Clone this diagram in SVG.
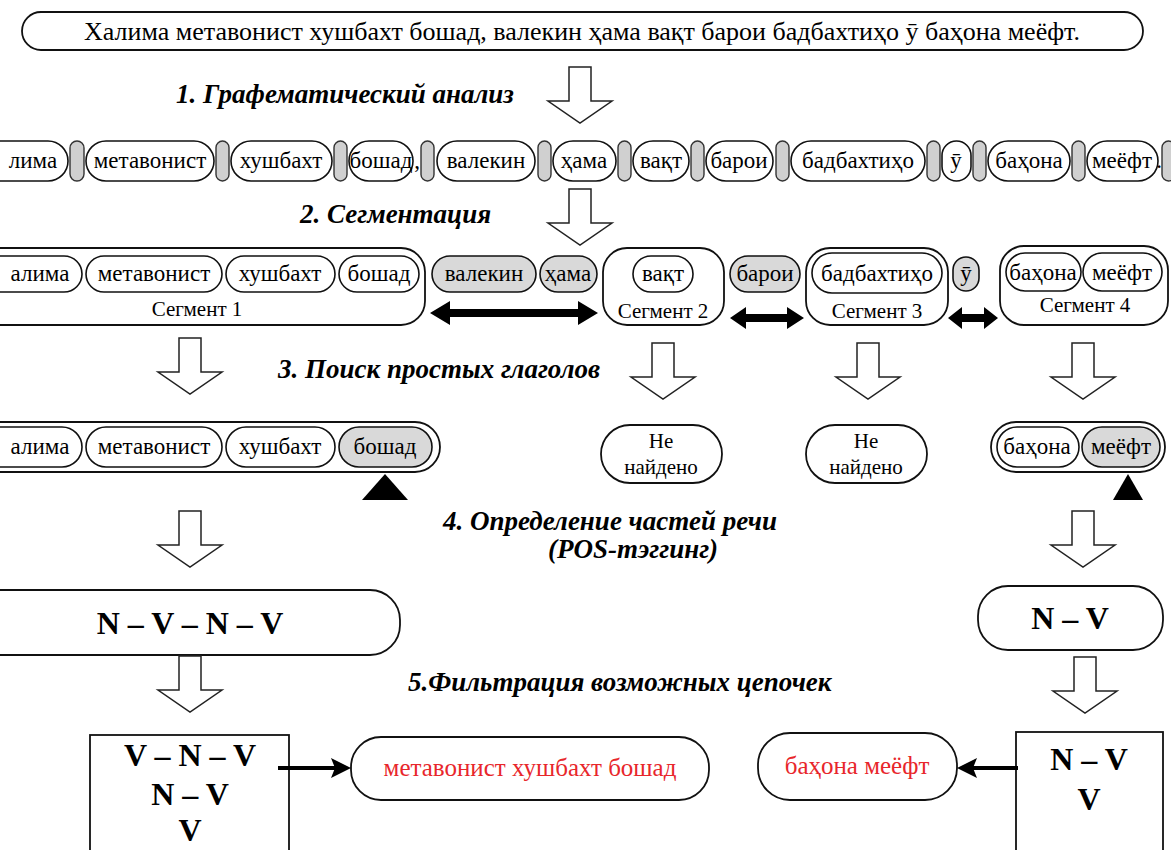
<svg xmlns="http://www.w3.org/2000/svg" width="1171" height="850" viewBox="0 0 1171 850">
<defs>
<path id="down" fill="#fff" stroke="#222" stroke-width="1.5" d="M-11,0 H11 V34 H32 L0,56 L-32,34 H-11 Z"/>
</defs>
<rect width="1171" height="850" fill="#fff"/>

<g id="sentence">
<rect fill="#fff" stroke="#111" stroke-width="1.8" x="22" y="12" width="1121" height="38" rx="19"/>
<text x="582" y="40" font-size="26" font-family="Liberation Serif" text-anchor="middle">Халима метавонист хушбахт бошад, валекин ҳама вақт барои бадбахтиҳо ӯ баҳона меёфт.</text>
</g>

<g id="labels">
<text x="176" y="103" font-size="27" font-family="Liberation Serif" font-weight="bold" font-style="italic">1. Графематический анализ</text>
<text x="300" y="223" font-size="27" font-family="Liberation Serif" font-weight="bold" font-style="italic">2. Сегментация</text>
<text x="278" y="378" font-size="27" font-family="Liberation Serif" font-weight="bold" font-style="italic">3. Поиск простых глаголов</text>
<text x="443" y="530" font-size="27" font-family="Liberation Serif" font-weight="bold" font-style="italic">4. Определение частей речи</text>
<text x="548" y="558" font-size="27" font-family="Liberation Serif" font-weight="bold" font-style="italic">(POS-тэггинг)</text>
<text x="408" y="691" font-size="27" font-family="Liberation Serif" font-weight="bold" font-style="italic">5.Фильтрация возможных цепочек</text>
</g>

<g id="tokens">
<rect fill="#fff" stroke="#111" stroke-width="1.6" x="-30" y="141" width="98" height="40" rx="20"/><text x="33" y="168" font-size="23" font-family="Liberation Serif" text-anchor="middle">лима</text>
<rect fill="#d0d0d0" stroke="#333" stroke-width="1.4" x="70" y="141" width="14" height="40" rx="7"/>
<rect fill="#fff" stroke="#111" stroke-width="1.6" x="86" y="141" width="128" height="40" rx="20"/><text x="150" y="168" font-size="23" font-family="Liberation Serif" text-anchor="middle">метавонист</text>
<rect fill="#d0d0d0" stroke="#333" stroke-width="1.4" x="216" y="141" width="13" height="40" rx="6.5"/>
<rect fill="#fff" stroke="#111" stroke-width="1.6" x="231" y="141" width="101" height="40" rx="20"/><text x="281" y="168" font-size="23" font-family="Liberation Serif" text-anchor="middle">хушбахт</text>
<rect fill="#d0d0d0" stroke="#333" stroke-width="1.4" x="334" y="141" width="13" height="40" rx="6.5"/>
<rect fill="#fff" stroke="#111" stroke-width="1.6" x="349" y="141" width="64" height="40" rx="20"/><text x="381" y="168" font-size="23" font-family="Liberation Serif" text-anchor="middle">бошад</text>
<text x="417" y="168" font-size="23" font-family="Liberation Serif" text-anchor="middle">,</text>
<rect fill="#d0d0d0" stroke="#333" stroke-width="1.4" x="421" y="141" width="13" height="40" rx="6.5"/>
<rect fill="#fff" stroke="#111" stroke-width="1.6" x="437" y="141" width="98" height="40" rx="20"/><text x="486" y="168" font-size="23" font-family="Liberation Serif" text-anchor="middle">валекин</text>
<rect fill="#d0d0d0" stroke="#333" stroke-width="1.4" x="538" y="141" width="13" height="40" rx="6.5"/>
<rect fill="#fff" stroke="#111" stroke-width="1.6" x="553" y="141" width="63" height="40" rx="20"/><text x="584" y="168" font-size="23" font-family="Liberation Serif" text-anchor="middle">ҳама</text>
<rect fill="#d0d0d0" stroke="#333" stroke-width="1.4" x="618" y="141" width="13" height="40" rx="6.5"/>
<rect fill="#fff" stroke="#111" stroke-width="1.6" x="633" y="141" width="56" height="40" rx="20"/><text x="661" y="168" font-size="23" font-family="Liberation Serif" text-anchor="middle">вақт</text>
<rect fill="#d0d0d0" stroke="#333" stroke-width="1.4" x="691" y="141" width="13" height="40" rx="6.5"/>
<rect fill="#fff" stroke="#111" stroke-width="1.6" x="706" y="141" width="67" height="40" rx="20"/><text x="739" y="168" font-size="23" font-family="Liberation Serif" text-anchor="middle">барои</text>
<rect fill="#d0d0d0" stroke="#333" stroke-width="1.4" x="776" y="141" width="13" height="40" rx="6.5"/>
<rect fill="#fff" stroke="#111" stroke-width="1.6" x="791" y="141" width="134" height="40" rx="20"/><text x="858" y="168" font-size="23" font-family="Liberation Serif" text-anchor="middle">бадбахтиҳо</text>
<rect fill="#d0d0d0" stroke="#333" stroke-width="1.4" x="927" y="141" width="13" height="40" rx="6.5"/>
<rect fill="#fff" stroke="#111" stroke-width="1.6" x="942" y="141" width="29" height="40" rx="14.5"/><text x="956" y="168" font-size="23" font-family="Liberation Serif" text-anchor="middle">ӯ</text>
<rect fill="#d0d0d0" stroke="#333" stroke-width="1.4" x="973" y="141" width="13" height="40" rx="6.5"/>
<rect fill="#fff" stroke="#111" stroke-width="1.6" x="988" y="141" width="82" height="40" rx="20"/><text x="1029" y="168" font-size="23" font-family="Liberation Serif" text-anchor="middle">баҳона</text>
<rect fill="#d0d0d0" stroke="#333" stroke-width="1.4" x="1072" y="141" width="13" height="40" rx="6.5"/>
<rect fill="#fff" stroke="#111" stroke-width="1.6" x="1087" y="141" width="71" height="40" rx="20"/><text x="1122" y="168" font-size="23" font-family="Liberation Serif" text-anchor="middle">меёфт</text>
<text x="1159" y="168" font-size="23" font-family="Liberation Serif" text-anchor="middle">.</text>
<rect fill="#d0d0d0" stroke="#333" stroke-width="1.4" x="1162" y="141" width="13" height="40" rx="6.5"/>
</g>

<g id="segment1">
<rect fill="#fff" stroke="#111" stroke-width="1.8" x="-30" y="248" width="455" height="77" rx="24"/>
<rect fill="#fff" stroke="#111" stroke-width="1.6" x="-30" y="256" width="112" height="36" rx="18"/><text x="40" y="281" font-size="23" font-family="Liberation Serif" text-anchor="middle">алима</text>
<rect fill="#fff" stroke="#111" stroke-width="1.6" x="86" y="256" width="136" height="36" rx="18"/><text x="154" y="281" font-size="23" font-family="Liberation Serif" text-anchor="middle">метавонист</text>
<rect fill="#fff" stroke="#111" stroke-width="1.6" x="226" y="256" width="109" height="36" rx="18"/><text x="280" y="281" font-size="23" font-family="Liberation Serif" text-anchor="middle">хушбахт</text>
<rect fill="#fff" stroke="#111" stroke-width="1.6" x="339" y="256" width="80" height="36" rx="18"/><text x="379" y="281" font-size="23" font-family="Liberation Serif" text-anchor="middle">бошад</text>
<text x="197" y="316" font-size="21" font-family="Liberation Serif" text-anchor="middle">Сегмент 1</text>
</g>
<g id="sep12">
<rect fill="#d9d9d9" stroke="#111" stroke-width="1.6" x="432" y="256" width="104" height="36" rx="18"/><text x="484" y="281" font-size="23" font-family="Liberation Serif" text-anchor="middle">валекин</text>
<rect fill="#d9d9d9" stroke="#111" stroke-width="1.6" x="540" y="256" width="57" height="36" rx="18"/><text x="568" y="281" font-size="23" font-family="Liberation Serif" text-anchor="middle">ҳама</text>
</g>
<g id="segment2">
<rect fill="#fff" stroke="#111" stroke-width="1.8" x="603" y="248" width="121" height="77" rx="24"/>
<rect fill="#fff" stroke="#111" stroke-width="1.6" x="633" y="256" width="60" height="36" rx="18"/><text x="663" y="281" font-size="23" font-family="Liberation Serif" text-anchor="middle">вақт</text>
<text x="663" y="318" font-size="21" font-family="Liberation Serif" text-anchor="middle">Сегмент 2</text>
</g>
<g id="sep23">
<rect fill="#d9d9d9" stroke="#111" stroke-width="1.6" x="730" y="256" width="70" height="36" rx="18"/><text x="765" y="281" font-size="23" font-family="Liberation Serif" text-anchor="middle">барои</text>
</g>
<g id="segment3">
<rect fill="#fff" stroke="#111" stroke-width="1.8" x="806" y="248" width="142" height="77" rx="24"/>
<rect fill="#fff" stroke="#111" stroke-width="1.6" x="812" y="253" width="130" height="40" rx="20"/><text x="877" y="281" font-size="23" font-family="Liberation Serif" text-anchor="middle">бадбахтиҳо</text>
<text x="877" y="318" font-size="21" font-family="Liberation Serif" text-anchor="middle">Сегмент 3</text>
</g>
<g id="sep34">
<rect fill="#d9d9d9" stroke="#111" stroke-width="1.6" x="953" y="257" width="26" height="34" rx="13"/><text x="966" y="281" font-size="23" font-family="Liberation Serif" text-anchor="middle">ӯ</text>
</g>
<g id="segment4">
<rect fill="#fff" stroke="#111" stroke-width="1.8" x="1000" y="246" width="168" height="79" rx="24"/>
<rect fill="#fff" stroke="#111" stroke-width="1.6" x="1006" y="253" width="75" height="38" rx="19"/><text x="1043" y="280" font-size="23" font-family="Liberation Serif" text-anchor="middle">баҳона</text>
<rect fill="#fff" stroke="#111" stroke-width="1.6" x="1083" y="253" width="79" height="38" rx="19"/><text x="1122" y="280" font-size="23" font-family="Liberation Serif" text-anchor="middle">меёфт</text>
<text x="1085" y="312" font-size="21" font-family="Liberation Serif" text-anchor="middle">Сегмент 4</text>
</g>

<g id="verbs1">
<rect fill="#fff" stroke="#111" stroke-width="1.8" x="-30" y="422" width="470" height="50" rx="25"/>
<rect fill="#fff" stroke="#111" stroke-width="1.6" x="-30" y="427" width="112" height="40" rx="20"/><text x="40" y="454" font-size="23" font-family="Liberation Serif" text-anchor="middle">алима</text>
<rect fill="#fff" stroke="#111" stroke-width="1.6" x="86" y="427" width="136" height="40" rx="20"/><text x="154" y="454" font-size="23" font-family="Liberation Serif" text-anchor="middle">метавонист</text>
<rect fill="#fff" stroke="#111" stroke-width="1.6" x="226" y="427" width="109" height="40" rx="20"/><text x="280" y="454" font-size="23" font-family="Liberation Serif" text-anchor="middle">хушбахт</text>
<rect fill="#d9d9d9" stroke="#111" stroke-width="1.6" x="339" y="427" width="93" height="40" rx="20"/><text x="385" y="454" font-size="23" font-family="Liberation Serif" text-anchor="middle">бошад</text>
<polygon points="385,474 408,500 362,500" fill="#000"/>
</g>
<g id="notfound2">
<rect fill="#fff" stroke="#111" stroke-width="1.8" x="601" y="425" width="121" height="58" rx="29"/>
<text x="661" y="448" font-size="21" font-family="Liberation Serif" text-anchor="middle">Не</text>
<text x="661" y="474" font-size="21" font-family="Liberation Serif" text-anchor="middle">найдено</text>
</g>
<g id="notfound3">
<rect fill="#fff" stroke="#111" stroke-width="1.8" x="806" y="425" width="121" height="58" rx="29"/>
<text x="866" y="448" font-size="21" font-family="Liberation Serif" text-anchor="middle">Не</text>
<text x="866" y="474" font-size="21" font-family="Liberation Serif" text-anchor="middle">найдено</text>
</g>
<g id="verbs4">
<rect fill="#fff" stroke="#111" stroke-width="1.8" x="991" y="422" width="174" height="50" rx="25"/>
<rect fill="#fff" stroke="#111" stroke-width="1.6" x="997" y="427" width="82" height="40" rx="20"/><text x="1037" y="454" font-size="23" font-family="Liberation Serif" text-anchor="middle">баҳона</text>
<rect fill="#d9d9d9" stroke="#111" stroke-width="1.6" x="1082" y="427" width="78" height="40" rx="20"/><text x="1121" y="454" font-size="23" font-family="Liberation Serif" text-anchor="middle">меёфт</text>
<polygon points="1128,474 1143,500 1113,500" fill="#000"/>
</g>

<g id="pos1">
<rect fill="#fff" stroke="#111" stroke-width="1.8" x="-30" y="590" width="430" height="65" rx="30"/>
<text x="190" y="634" font-size="32" font-family="Liberation Serif" font-weight="bold" text-anchor="middle">N – V – N – V</text>
</g>
<g id="pos4">
<rect fill="#fff" stroke="#111" stroke-width="1.8" x="978" y="586" width="185" height="64" rx="30"/>
<text x="1070" y="629" font-size="32" font-family="Liberation Serif" font-weight="bold" text-anchor="middle">N – V</text>
</g>
<g id="filter1">
<rect fill="#fff" stroke="#111" stroke-width="1.8" x="90" y="735" width="199" height="130"/>
<text x="190" y="766" font-size="32" font-family="Liberation Serif" font-weight="bold" text-anchor="middle">V – N – V</text>
<text x="190" y="805" font-size="32" font-family="Liberation Serif" font-weight="bold" text-anchor="middle">N – V</text>
<text x="190" y="841" font-size="32" font-family="Liberation Serif" font-weight="bold" text-anchor="middle">V</text>
</g>
<g id="filter4">
<rect fill="#fff" stroke="#111" stroke-width="1.8" x="1016" y="732" width="147" height="130"/>
<text x="1089" y="770" font-size="32" font-family="Liberation Serif" font-weight="bold" text-anchor="middle">N – V</text>
<text x="1089" y="810" font-size="32" font-family="Liberation Serif" font-weight="bold" text-anchor="middle">V</text>
</g>
<g id="result1">
<rect fill="#fff" stroke="#111" stroke-width="1.8" x="351" y="737" width="358" height="63" rx="30"/>
<text x="530" y="776" font-size="25" font-family="Liberation Serif" fill="#e8262b" text-anchor="middle">метавонист хушбахт бошад</text>
</g>
<g id="result4">
<rect fill="#fff" stroke="#111" stroke-width="1.8" x="758" y="733" width="199" height="67" rx="32"/>
<text x="857" y="774" font-size="25" font-family="Liberation Serif" fill="#e8262b" text-anchor="middle">баҳона меёфт</text>
</g>

<g id="connectors">
<use href="#down" x="580" y="67"/>
<use href="#down" x="580" y="189"/>
<use href="#down" x="190" y="338"/>
<use href="#down" x="663" y="343"/>
<use href="#down" x="868" y="343"/>
<use href="#down" x="1083" y="343"/>
<use href="#down" x="190" y="511"/>
<use href="#down" x="1083" y="511"/>
<use href="#down" x="190" y="656"/>
<use href="#down" x="1085" y="657"/>
<polygon fill="#000" points="430,313 450,301 450,309 578,309 578,301 598,313 578,325 578,317 450,317 450,325"/>
<polygon fill="#000" points="730,318 746,307 746,314 787,314 787,307 804,318 787,329 787,322 746,322 746,329"/>
<polygon fill="#000" points="948,318 962,307 962,314 984,314 984,307 998,318 984,329 984,322 962,322 962,329"/>
<line x1="278" y1="768" x2="335" y2="768" stroke="#000" stroke-width="4"/>
<polygon fill="#000" points="351,768 331,758 335,768 331,778"/>
<line x1="1018" y1="768" x2="973" y2="768" stroke="#000" stroke-width="4"/>
<polygon fill="#000" points="957,768 977,758 973,768 977,778"/>
</g>
</svg>
